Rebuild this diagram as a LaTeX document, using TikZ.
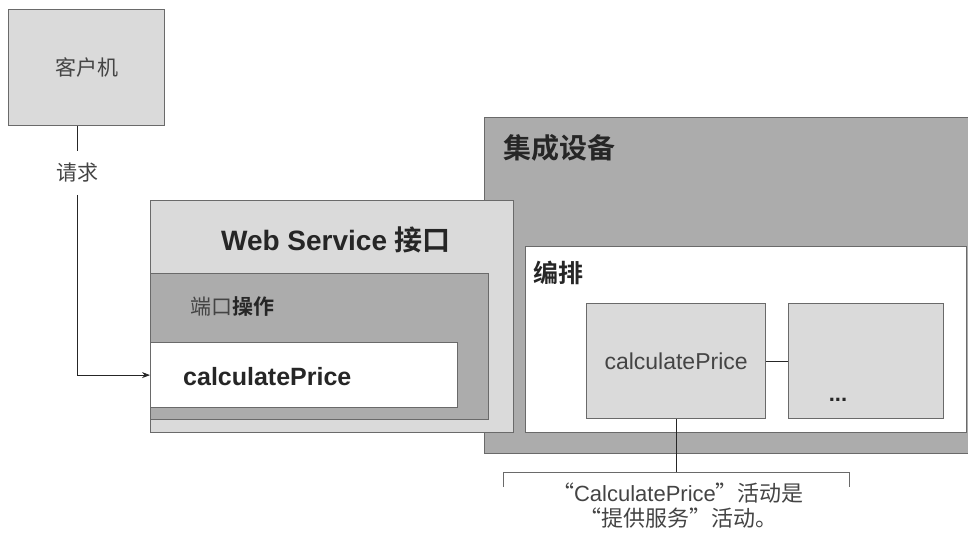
\documentclass[tikz,border=0pt]{standalone}
\usepackage{fontspec}
\setmainfont{Liberation Sans}
\newfontfamily\cjk{Noto Sans CJK SC}[BoldFont={Noto Sans CJK SC Bold}]
\usetikzlibrary{positioning, arrows.meta}
\definecolor{clrlight}{HTML}{DADADA}
\definecolor{clrdark}{HTML}{ACACAC}
\definecolor{clrborder}{HTML}{6A6A6A}
\definecolor{clrtext}{HTML}{262626}
\definecolor{clrsoft}{HTML}{444444}

\begin{document}
\begin{tikzpicture}[
    x=1pt, y=-1pt,
    box/.style={draw=clrborder, line width=1.2pt, anchor=north west, inner sep=0pt},
    lightbox/.style={box, fill=clrlight},
    darkbox/.style={box, fill=clrdark},
    whitebox/.style={box, fill=white},
    title/.style={anchor=west, text=clrtext, inner sep=0pt},
    arrow/.style={-{Stealth[length=8pt,width=6pt]}, line width=0.9pt, color=clrtext},
    link/.style={line width=0.9pt, color=clrtext},
]
\useasboundingbox (0,0) rectangle (968,534);
\clip (0,0) rectangle (968,534);
% client
\node[lightbox, minimum width=156pt, minimum height=116pt, font=\cjk\fontsize{21}{25}\selectfont, text=clrsoft] (client) at (8,9) {客户机};
\node[font=\cjk\fontsize{21}{25}\selectfont, text=clrsoft, inner xsep=2pt, inner ysep=12pt] (request) at (77,173) {请求};
% integration device
\node[darkbox, minimum width=500pt, minimum height=336pt] (integ) at (484,117) {};
\node[title, font=\cjk\bfseries\fontsize{28}{32}\selectfont] (integ_title) at (503,148) {集成设备};
% web service interface
\node[lightbox, minimum width=363pt, minimum height=232pt] (ws) at (150,200) {};
\node[text=clrtext, font=\bfseries\fontsize{28}{32}\selectfont] (ws_title) at (336,240) {Web Service {\cjk 接口}};
\node[darkbox, minimum width=338pt, minimum height=146pt] (port) at (150,273) {};
\node[title, font=\cjk\fontsize{21}{25}\selectfont] (port_title) at (190,307) {{\color{clrsoft}端口}\textbf{操作}};
\node[whitebox, minimum width=307pt, minimum height=65pt] (op) at (150,342) {};
\node[title, font=\bfseries\fontsize{25}{29}\selectfont] (op_title) at (183,377) {calculatePrice};
% orchestration
\node[whitebox, minimum width=441pt, minimum height=186pt] (orch) at (525,246) {};
\node[title, font=\cjk\bfseries\fontsize{25}{30}\selectfont] (orch_title) at (533,273) {编排};
\node[lightbox, minimum width=179pt, minimum height=115pt, font=\fontsize{23}{27}\selectfont, text=clrsoft] (orch_calc) at (586,303) {calculatePrice};
\node[lightbox, minimum width=155pt, minimum height=115pt] (orch_more) at (788,303) {};
\node[font=\bfseries\fontsize{22}{26}\selectfont, text=clrtext] (more_dots) at (838,400) {...};
% connectors
\draw[link] (client.south -| request) -- (request.north);
\draw[arrow] (request.south) |- (op.west);
\draw[link] (orch_calc.east) -- (orch_more.west);
% note
\coordinate (bracket_top) at (676,472);
\coordinate (bracket_l) at (503,487);
\coordinate (bracket_r) at (849,487);
\draw[link] (orch_calc.south) -- (orch_calc.south |- bracket_top);
\draw[link, color=clrborder] (bracket_l) |- (bracket_r |- bracket_top) -- (bracket_r);
\node[font=\cjk\fontsize{22}{25}\selectfont, align=center, text=clrsoft] (note) at (678,506) {“{\rmfamily CalculatePrice}”活动是\\“提供服务”活动。};
\end{tikzpicture}
\end{document}
